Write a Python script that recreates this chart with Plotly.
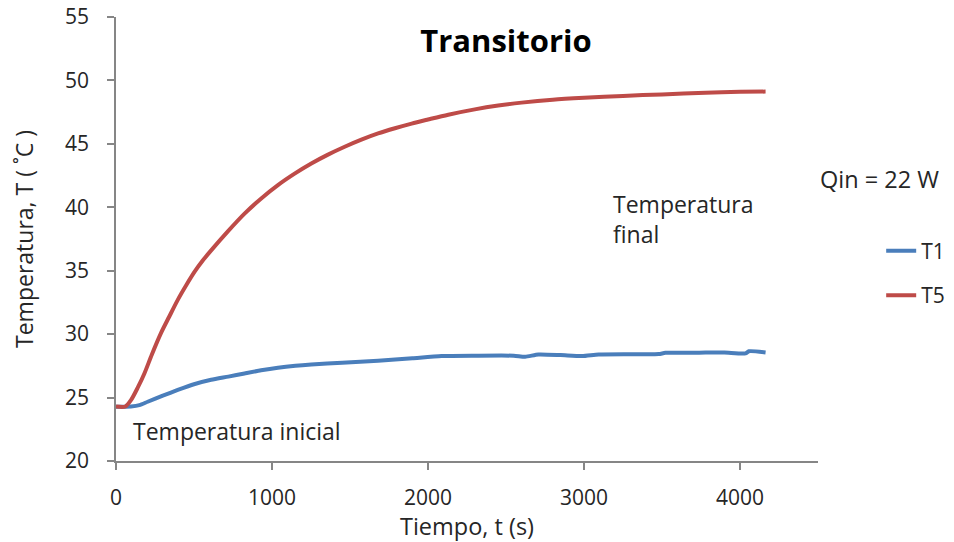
import plotly.graph_objects as go

# T1 series (time in s, temperature in °C)
t1_time = [0, 96, 150, 203, 300, 396, 500, 610, 720, 824, 930, 1038, 1150, 1252, 1450,
           1680, 1900, 2087, 2300, 2550, 2623, 2708, 2850, 2987, 3094, 3300, 3479, 3522,
           3700, 3779, 3900, 4035, 4057, 4164]
t1_temp = [24.28, 24.3, 24.4, 24.67, 25.15, 25.6, 26.05, 26.4, 26.65, 26.9, 27.15, 27.35,
           27.5, 27.6, 27.75, 27.9, 28.1, 28.27, 28.3, 28.3, 28.22, 28.4, 28.35, 28.27,
           28.4, 28.42, 28.43, 28.53, 28.53, 28.55, 28.55, 28.48, 28.65, 28.56]

# T5 series
t5_time = [0, 60, 96, 140, 182, 230, 289, 340, 396, 450, 503, 556, 610, 717, 824, 931, 1038,
           1145, 1252, 1359, 1466, 1573, 1680, 1788, 1895, 2000, 2130, 2300, 2450, 2600,
           2800, 3000, 3250, 3500, 3780, 4000, 4164]
t5_temp = [24.3, 24.3, 24.8, 25.8, 26.9, 28.4, 30.1, 31.35, 32.7, 33.85, 34.9, 35.8, 36.6,
           38.1, 39.5, 40.7, 41.75, 42.65, 43.45, 44.15, 44.77, 45.33, 45.82, 46.23, 46.6,
           46.92, 47.3, 47.72, 48.02, 48.25, 48.48, 48.63, 48.78, 48.9, 49.03, 49.1, 49.12]

x_ticks = [0, 1000, 2000, 3000, 4000]
y_ticks = [20, 25, 30, 35, 40, 45, 50, 55]

FONT = "Open Sans"
TXT = "#262626"
AXIS = "#868686"

W, H = 946, 534  # page body has an 8px margin

fig = go.Figure()
fig.add_trace(go.Scatter(x=t1_time, y=t1_temp, mode="lines", name="T1",
                         legendgroup="a",
                         line=dict(color="#4A7EBB", width=4, shape="spline", smoothing=0.6)))
fig.add_trace(go.Scatter(x=t5_time, y=t5_temp, mode="lines", name="T5",
                         legendgroup="b",
                         line=dict(color="#BE4B48", width=4, shape="spline", smoothing=0.8)))

fig.update_layout(
    width=W, height=H,
    margin=dict(l=108, r=136, t=9, b=81, autoexpand=False),
    paper_bgcolor="white", plot_bgcolor="white",
    font=dict(family=FONT, size=21, color=TXT),
    showlegend=True,
    legend=dict(x=1.09, y=0.423, xanchor="left", yanchor="middle",
                traceorder="grouped", tracegroupgap=14,
                font=dict(size=21, color=TXT), bgcolor="rgba(0,0,0,0)"),
    title=dict(text="<b>Transitorio</b>", x=498 / W, xanchor="center",
               y=1 - 33 / H, yanchor="middle",
               font=dict(family=FONT, size=31, color="black")),
)

fig.update_xaxes(range=[0, 4500], tickvals=x_ticks, showgrid=False, zeroline=False,
                 automargin=False, ticklabeloverflow="allow",
                 showline=True, linecolor=AXIS, linewidth=1.5,
                 ticks="outside", ticklen=7, tickcolor=AXIS, tickwidth=1.5,
                 ticklabelstandoff=10,
                 tickfont=dict(size=21, color=TXT),
                 title=dict(text="Tiempo, t (s)", font=dict(size=23.5, color=TXT), standoff=6))
fig.update_yaxes(range=[20, 55], tickvals=y_ticks, showgrid=False, zeroline=False,
                 automargin=False, ticklabeloverflow="allow",
                 showline=True, linecolor=AXIS, linewidth=1.5,
                 ticks="outside", ticklen=7, tickcolor=AXIS, tickwidth=1.5,
                 ticklabelstandoff=14,
                 tickfont=dict(size=21, color=TXT),
                 title=dict(text="Temperatura, T ( ˚C )", font=dict(size=23, color=TXT), standoff=28))

fig.add_annotation(text="Temperatura inicial", xref="x", yref="y", x=95, y=22.35,
                   xanchor="left", yanchor="middle", showarrow=False,
                   font=dict(size=23, color=TXT))
fig.add_annotation(text="Temperatura<br>final", xref="x", yref="y", x=3170, y=39.07,
                   xanchor="left", yanchor="middle", showarrow=False, align="left",
                   font=dict(size=23, color=TXT))
fig.add_annotation(text="Qin = 22 W", xref="paper", yref="paper", x=(818 - 116) / 702,
                   y=(461 - 179) / 444, xanchor="left", yanchor="middle", showarrow=False,
                   font=dict(size=23.5, color=TXT))

fig.write_html("out.html")
